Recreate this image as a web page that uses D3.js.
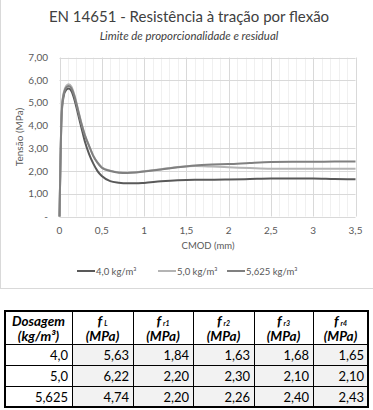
<!DOCTYPE html>
<html>
<head>
<meta charset="utf-8">
<script src="https://cdn.jsdelivr.net/npm/d3@7"></script>
<style>
  body { margin: 0; background: #fff; }
  svg { display: block; font-family: Lato, "Open Sans", sans-serif; }
</style>
</head>
<body>
<svg id="chart" width="373" height="410"></svg>
<script>
// CMOD (mm) sampling points shared by the three curves
const cmod = [0, 0.01, 0.02, 0.03, 0.05, 0.08, 0.11, 0.14, 0.18, 0.22, 0.26, 0.3, 0.35, 0.4, 0.45, 0.5,
  0.6, 0.7, 0.8, 0.9, 1.0, 1.2, 1.4, 1.6, 1.8, 2.0, 2.25, 2.5, 2.75, 3.0, 3.25, 3.5];

// tension (MPa)
const dose40 = [0, 2.1, 3.9, 4.75, 5.3, 5.58, 5.63, 5.52, 5.1, 4.5, 3.9, 3.3, 2.75, 2.33, 2.0, 1.78,
  1.56, 1.49, 1.46, 1.46, 1.48, 1.55, 1.6, 1.62, 1.62, 1.63, 1.65, 1.67, 1.67, 1.67, 1.65, 1.64];
const dose50 = [0, 2.2, 4.0, 4.9, 5.45, 5.75, 5.82, 5.72, 5.3, 4.7, 4.1, 3.6, 3.12, 2.68, 2.38, 2.17,
  2.02, 1.95, 1.93, 1.95, 1.99, 2.08, 2.18, 2.22, 2.2, 2.17, 2.13, 2.1, 2.1, 2.1, 2.1, 2.1];
const dose5625 = [0, 2.15, 3.95, 4.85, 5.4, 5.68, 5.74, 5.65, 5.25, 4.66, 4.07, 3.57, 3.1, 2.66, 2.36, 2.15,
  2.0, 1.93, 1.92, 1.94, 1.98, 2.07, 2.17, 2.25, 2.29, 2.31, 2.36, 2.4, 2.41, 2.41, 2.42, 2.42];

const seriesNames = ["4,0 kg/m³", "5,0 kg/m³", "5,625 kg/m³"];
const seriesValues = [dose40, dose50, dose5625];
const seriesColors = ["#595959", "#b4b4b4", "#808080"];

const yTicks = [0, 1, 2, 3, 4, 5, 6, 7];
const xTicks = [0, 0.5, 1, 1.5, 2, 2.5, 3, 3.5];

// table
const tableDoses = ["4,0", "5,0", "5,625"];
const fL = ["5,63", "6,22", "4,74"];
const fr1 = ["1,84", "2,20", "2,20"];
const fr2 = ["1,63", "2,30", "2,26"];
const fr3 = ["1,68", "2,10", "2,40"];
const fr4 = ["1,65", "2,10", "2,43"];
const tableHeads = [["f", "L"], ["f", "r1"], ["f", "r2"], ["f", "r3"], ["f", "r4"]];

const svg = d3.select("#chart");
const fmt = d => String(d).replace(".", ",");

// chart frame
svg.append("line").attr("x1", 0).attr("x2", 373).attr("y1", 288.5).attr("y2", 288.5)
  .style("stroke", "#d9d9d9");
svg.append("line").attr("x1", 0.5).attr("x2", 0.5).attr("y1", 0).attr("y2", 288)
  .style("stroke", "#d9d9d9");

const x = d3.scaleLinear().domain([0, 3.5]).range([59.5, 355.5]);
const y = d3.scaleLinear().domain([0, 7]).range([216.5, 57.5]);

const plot = svg.append("g");

// minor vertical grid
plot.selectAll("line.minor")
  .data(d3.range(1, 35).map(i => i / 10).filter(v => Math.abs(v * 2 - Math.round(v * 2)) > 1e-6))
  .enter().append("line")
    .attr("class", "minor")
    .attr("x1", d => Math.round(x(d)) + 0.5).attr("x2", d => Math.round(x(d)) + 0.5)
    .attr("y1", y(7)).attr("y2", y(0))
    .style("stroke", "#f0f0f0");

plot.selectAll("line.vmajor")
  .data(xTicks)
  .enter().append("line")
    .attr("class", "vmajor")
    .attr("x1", d => Math.round(x(d)) + 0.5).attr("x2", d => Math.round(x(d)) + 0.5)
    .attr("y1", y(7)).attr("y2", y(0))
    .style("stroke", "#d9d9d9");

plot.selectAll("line.hmajor")
  .data(yTicks)
  .enter().append("line")
    .attr("class", "hmajor")
    .attr("x1", x(0)).attr("x2", x(3.5))
    .attr("y1", d => Math.round(y(d)) + 0.5).attr("y2", d => Math.round(y(d)) + 0.5)
    .style("stroke", "#d9d9d9");

// tick labels
plot.selectAll("text.ytick")
  .data(yTicks)
  .enter().append("text")
    .attr("class", "ytick")
    .attr("x", 48).attr("y", d => y(d) + 3.5)
    .attr("text-anchor", "end")
    .style("font-size", "10px").style("fill", "#595959")
    .text(d => d === 0 ? "-" : d3.format(".2f")(d).replace(".", ","));

plot.selectAll("text.xtick")
  .data(xTicks)
  .enter().append("text")
    .attr("class", "xtick")
    .attr("x", d => x(d)).attr("y", 234)
    .attr("text-anchor", "middle")
    .style("font-size", "10px").style("fill", "#595959")
    .text(fmt);

svg.append("text")
  .attr("x", 208).attr("y", 249)
  .attr("text-anchor", "middle")
  .style("font-size", "9.5px").style("fill", "#595959")
  .text("CMOD (mm)");

svg.append("text")
  .attr("transform", "translate(23,137) rotate(-90)")
  .attr("text-anchor", "middle")
  .style("font-size", "10px").style("fill", "#595959")
  .text("Tensão (MPa)");

// titles
svg.append("text")
  .attr("x", 189).attr("y", 22)
  .attr("text-anchor", "middle")
  .style("font-size", "15px").style("fill", "#404040")
  .text("EN 14651 - Resistência à tração por flexão");

svg.append("text")
  .attr("x", 189).attr("y", 40)
  .attr("text-anchor", "middle")
  .style("font-size", "11.4px").style("font-style", "italic").style("fill", "#404040")
  .text("Limite de proporcionalidade e residual");

// curves
const line = d3.line()
  .x((d, i) => x(cmod[i]))
  .y(d => y(d))
  .curve(d3.curveMonotoneX);

plot.selectAll("path.curve")
  .data(seriesValues)
  .enter().append("path")
    .attr("class", "curve")
    .attr("d", line)
    .style("fill", "none")
    .style("stroke", (d, i) => seriesColors[i])
    .style("stroke-width", 2);

// legend
const legendX = [77, 158, 227];
const legend = svg.selectAll("g.legend")
  .data(seriesNames)
  .enter().append("g")
    .attr("class", "legend")
    .attr("transform", (d, i) => "translate(" + legendX[i] + ",271)");

legend.append("line")
  .attr("x1", 0).attr("x2", 18).attr("y1", 0).attr("y2", 0)
  .style("stroke", (d, i) => seriesColors[i])
  .style("stroke-width", 2);

legend.append("text")
  .attr("x", 19).attr("y", 3.5)
  .style("font-size", "9.5px").style("fill", "#595959")
  .text(d => d);

// table
const colX = [5, 72, 133, 193, 254, 313, 368];
const rowY = [311, 344, 365, 386, 407];
const tableRows = tableDoses.map((d, i) => [d, fL[i], fr1[i], fr2[i], fr3[i], fr4[i]]);

const table = svg.append("g");

tableRows.forEach((row, r) => {
  row.forEach((val, c) => {
    table.append("rect")
      .attr("x", colX[c]).attr("y", rowY[r + 1])
      .attr("width", colX[c + 1] - colX[c]).attr("height", rowY[r + 2] - rowY[r + 1])
      .style("fill", c === 0 ? "#ffffff" : "#f2f2f2");
    table.append("text")
      .attr("x", colX[c + 1] - 4).attr("y", rowY[r + 2] - 5)
      .attr("text-anchor", "end")
      .style("font-size", "13px").style("fill", "#000")
      .text(val);
  });
});

// header
const head = table.append("g")
  .style("font-weight", "bold").style("font-style", "italic").style("fill", "#000");

head.append("text").attr("x", (colX[0] + colX[1]) / 2).attr("y", 326)
  .attr("text-anchor", "middle").style("font-size", "13.5px").text("Dosagem");
head.append("text").attr("x", (colX[0] + colX[1]) / 2).attr("y", 341)
  .attr("text-anchor", "middle").style("font-size", "13.5px").text("(kg/m³)");

tableHeads.forEach((h, i) => {
  const cx = (colX[i + 1] + colX[i + 2]) / 2;
  const t = head.append("text").attr("x", cx).attr("y", 326).attr("text-anchor", "middle");
  t.append("tspan").style("font-size", "14px").text(h[0]);
  t.append("tspan").attr("dx", 2).style("font-size", "7px").text(h[1]);
  head.append("text").attr("x", cx).attr("y", 341)
    .attr("text-anchor", "middle").style("font-size", "13.5px").text("(MPa)");
});

// grid lines of table
rowY.slice(1, -1).forEach(v => {
  table.append("line").attr("x1", colX[0]).attr("x2", colX[6])
    .attr("y1", v + 0.5).attr("y2", v + 0.5).style("stroke", "#000");
});
colX.slice(1, -1).forEach(v => {
  table.append("line").attr("x1", v + 0.5).attr("x2", v + 0.5)
    .attr("y1", rowY[0]).attr("y2", rowY[4]).style("stroke", "#000");
});
table.append("rect")
  .attr("x", colX[0]).attr("y", rowY[0])
  .attr("width", colX[6] - colX[0]).attr("height", rowY[4] - rowY[0])
  .style("fill", "none").style("stroke", "#000").style("stroke-width", 2);
</script>
</body>
</html>
